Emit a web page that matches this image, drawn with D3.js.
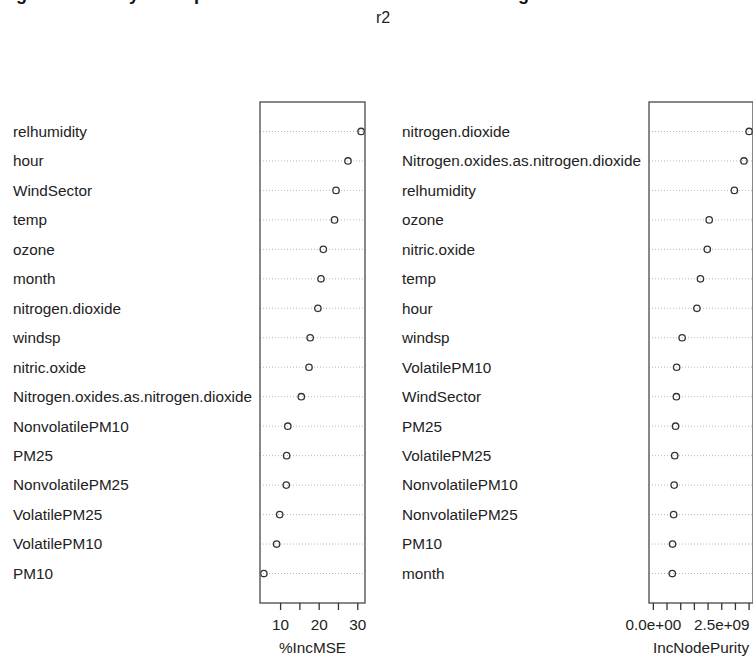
<!DOCTYPE html>
<html>
<head>
<meta charset="utf-8">
<script src="https://cdn.jsdelivr.net/npm/d3@7"></script>
<style>
  body { margin: 0; background: #fff; }
  svg { display: block; font-family: "Liberation Sans", Arial, sans-serif; }
</style>
</head>
<body>
<div id="vis"></div>
<script>
const FRAME_WIDTH = 753;
const FRAME_HEIGHT = 658;
const BOX_TOP = 102;
const BOX_BOTTOM = 603;

// left panel: %IncMSE
const MSE_VARS = ["relhumidity", "hour", "WindSector", "temp", "ozone", "month",
  "nitrogen.dioxide", "windsp", "nitric.oxide", "Nitrogen.oxides.as.nitrogen.dioxide",
  "NonvolatilePM10", "PM25", "NonvolatilePM25", "VolatilePM25", "VolatilePM10", "PM10"];
const MSE_VALUES = [31.0, 27.6, 24.5, 24.1, 21.2, 20.6, 19.8, 17.8, 17.5, 15.5,
  12.0, 11.7, 11.6, 9.9, 9.1, 5.8];
const MSE_TICKS = [10, 15, 20, 25, 30];
const MSE_TICK_LABELS = ["10", "", "20", "", "30"];

// right panel: IncNodePurity
const PUR_VARS = ["nitrogen.dioxide", "Nitrogen.oxides.as.nitrogen.dioxide", "relhumidity",
  "ozone", "nitric.oxide", "temp", "hour", "windsp", "VolatilePM10", "WindSector", "PM25",
  "VolatilePM25", "NonvolatilePM10", "NonvolatilePM25", "PM10", "month"];
const PUR_VALUES = [3.52e9, 3.33e9, 2.98e9, 2.06e9, 1.99e9, 1.74e9, 1.61e9, 1.07e9,
  0.87e9, 0.86e9, 0.83e9, 0.80e9, 0.78e9, 0.76e9, 0.72e9, 0.71e9];
const PUR_TICKS = [0, 5e8, 1e9, 1.5e9, 2e9, 2.5e9, 3e9, 3.5e9, 4e9];
const PUR_TICK_LABELS = ["0.0e+00", "", "", "", "", "2.5e+09", "", "", ""];

const TITLE = "r2";
const CAPTION = "Figure 4.10: Key for importance of random forest model using";

const svg = d3
  .select("#vis")
  .append("svg")
  .attr("width", FRAME_WIDTH)
  .attr("height", FRAME_HEIGHT);

// cropped caption line, only descenders show
svg.append("text")
  .attr("x", 0)
  .attr("y", 0)
  .style("font-size", "18px")
  .style("font-weight", "bold")
  .attr("fill", "#111")
  .text(CAPTION);

svg.append("text")
  .attr("x", 383)
  .attr("y", 23)
  .attr("text-anchor", "middle")
  .style("font-size", "16px")
  .attr("fill", "#222")
  .text(TITLE);

function drawPanel(vars, values, xmin, ticks, tickLabels, xlab, labelX, boxLeft, boxRight) {
  const n = vars.length;
  const lo = xmin === null ? d3.min(values) : xmin;
  const hi = d3.max(values);
  const pad = (hi - lo) * 0.04;

  const X = d3.scaleLinear().domain([lo - pad, hi + pad]).range([boxLeft, boxRight]);
  // first variable on top, R dotchart style
  const Y = d3.scaleLinear().domain([0, n + 1]).range([BOX_TOP, BOX_BOTTOM]);

  const g = svg.append("g");

  g.selectAll(".guide")
    .data(vars)
    .enter()
    .append("line")
    .attr("x1", boxLeft)
    .attr("x2", boxRight)
    .attr("y1", (d, i) => Y(i + 1))
    .attr("y2", (d, i) => Y(i + 1))
    .attr("stroke", "#b8b8b8")
    .attr("stroke-width", 1)
    .attr("stroke-dasharray", "1,2");

  g.selectAll(".lab")
    .data(vars)
    .enter()
    .append("text")
    .attr("x", labelX)
    .attr("y", (d, i) => Y(i + 1))
    .attr("dy", "0.35em")
    .style("font-size", "15.3px")
    .attr("fill", "#222")
    .text((d) => d);

  g.selectAll(".pt")
    .data(values)
    .enter()
    .append("circle")
    .attr("cx", (d) => X(d))
    .attr("cy", (d, i) => Y(i + 1))
    .attr("r", 3.2)
    .attr("fill", "none")
    .attr("stroke", "#333")
    .attr("stroke-width", 1.3);

  g.append("rect")
    .attr("x", boxLeft)
    .attr("y", BOX_TOP)
    .attr("width", boxRight - boxLeft)
    .attr("height", BOX_BOTTOM - BOX_TOP)
    .attr("fill", "none")
    .attr("stroke", "#555")
    .attr("stroke-width", 1.4);

  const axis = g.append("g")
    .attr("transform", `translate(0, ${BOX_BOTTOM})`)
    .call(d3.axisBottom(X).tickValues(ticks).tickSize(7).tickPadding(9)
      .tickFormat((d, i) => tickLabels[i]));
  axis.select(".domain").remove();
  axis.selectAll(".tick line").attr("stroke", "#333").attr("stroke-width", 1.3);
  axis.selectAll(".tick text")
    .attr("fill", "#222")
    .style("font-size", "15.3px")
    .style("font-family", "'Liberation Sans', Arial, sans-serif");

  g.append("text")
    .attr("x", (boxLeft + boxRight) / 2)
    .attr("y", 653)
    .attr("text-anchor", "middle")
    .style("font-size", "15.3px")
    .attr("fill", "#222")
    .text(xlab);
}

drawPanel(MSE_VARS, MSE_VALUES, null, MSE_TICKS, MSE_TICK_LABELS, "%IncMSE", 13, 260, 365);
drawPanel(PUR_VARS, PUR_VALUES, 0, PUR_TICKS, PUR_TICK_LABELS, "IncNodePurity", 402, 649, 753);
</script>
</body>
</html>
